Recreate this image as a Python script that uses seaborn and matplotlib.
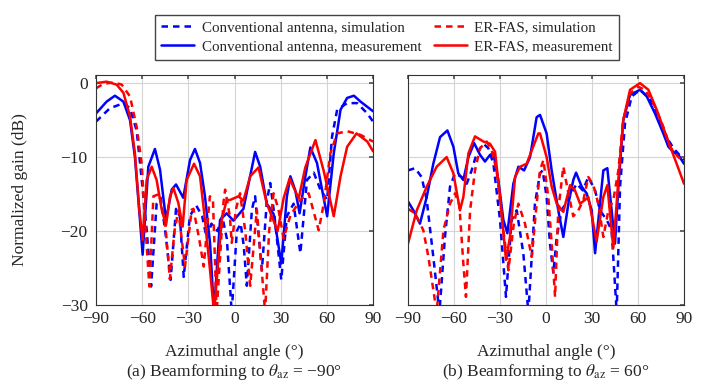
import numpy as np
import pandas as pd
import matplotlib
matplotlib.use('Agg')
import matplotlib.pyplot as plt
import seaborn as sns

# ---- (a) Beamforming to -90 deg ----
a_conv_sim_x = [-90, -81, -72, -68, -63.6, -60.9, -57, -54.2, -50.6, -48, -45, -41.5, -38, -35.5, -33, -29, -25, -21,
                -18, -15, -11, -8, -5, -1.8, 1.5, 4, 6, 8, 11.3, 13.4, 17.8, 21, 23.2, 26, 30.4, 34, 38.4, 42.8, 47.1,
                51.5, 55.8, 60.2, 63.4, 66.7, 73.2, 79.7, 86.3, 90]
a_conv_sim_y = [-5.2, -3.4, -2.7, -3.4, -6.4, -11.8, -20, -27.5, -16.3, -15.5, -20, -26.6, -17, -18, -26.2, -18, -16.5,
                -18, -21, -19, -20, -18, -21, -31, -20, -19, -22, -27.4, -17.1, -15.3, -25.3, -16, -13.5, -18, -26.6,
                -18, -16.3, -23, -13.1, -12.1, -14.4, -15.8, -7.2, -3.6, -2.7, -2.7, -4.1, -5.2]

a_conv_meas_x = [-90, -83.1, -77.7, -72.2, -67.9, -64.7, -61.4, -59.7, -56, -51.7, -48.4, -44.5, -40.8, -38, -33.3,
                 -28.9, -25.7, -22.4, -19.2, -15.9, -13.3, -9.4, -5.1, -0.7, 5.8, 13.4, 16.7, 21, 25.4, 30.4, 34, 36.3,
                 39.5, 42.3, 46, 49.3, 53.6, 60.2, 64.5, 68.9, 73.2, 77.6, 81.9, 90]
a_conv_meas_y = [-4.1, -2.5, -1.7, -2.5, -5, -10, -18.6, -23.2, -11.3, -8.9, -11.7, -18.5, -14.4, -13.7, -15.5, -10.4,
                 -8.9, -10.8, -15.3, -21.6, -31, -18.5, -17.6, -18.6, -17, -9.3, -11.3, -16.3, -17.7, -24.4, -15.4,
                 -12.6, -14.5, -17.6, -12.7, -8.7, -10.8, -18, -9.5, -3.6, -2, -1.7, -2.5, -3.8]

a_er_sim_x = [-90, -85.2, -78.7, -73.3, -67.9, -63.6, -60.3, -58.2, -55.3, -52.7, -49, -45, -42, -39, -36.5, -32.2,
              -27.8, -26.7, -23, -20, -16, -14, -11.6, -7.2, -6.1, -3, -1.8, 1, 3.6, 7, 10.2, 14.5, 19.9, 22.5, 25.4,
              28.5, 31.9, 36.3, 42.8, 48.2, 54.7, 58, 62.3, 66.7, 73.2, 81.9, 90]
a_er_sim_y = [-0.7, -0.1, 0.1, -0.2, -1.8, -5.9, -10.9, -18.5, -27.5, -15.3, -15, -19, -26.5, -20, -17.2, -24.8, -17.1,
              -17, -21, -24.8, -15.3, -15.8, -31, -16.2, -14.4, -18, -21.6, -17, -14.9, -20, -27.4, -17.1, -31, -20,
              -14.9, -17, -21, -17.9, -15.8, -14.9, -19.9, -16.3, -9.5, -6.8, -6.5, -7, -7.9]

a_er_meas_x = [-90, -83.1, -76.6, -72.2, -67.9, -64.7, -61.8, -59.7, -57.1, -53.8, -50.6, -47.3, -44.5, -41.9, -39.7,
               -36.5, -33.7, -31.1, -26.3, -22.4, -19.2, -15.9, -13.3, -8.3, -5.1, -2.9, 2.6, 5.8, 10.2, 15.6, 21, 28,
               32, 35.8, 41.7, 46, 52.6, 58, 64.5, 68.9, 73.2, 79.3, 86.3, 90]
a_er_meas_y = [0, 0.2, -0.2, -1.3, -4.5, -9.5, -17.2, -21.2, -13.1, -11.3, -13.1, -17.1, -19.2, -15.3, -14.2, -16.2,
               -19.4, -13.1, -10.9, -12.6, -18.5, -25.3, -31, -18.5, -15.8, -15.8, -15.3, -15.9, -12.6, -11.4, -16.3,
               -20, -15.5, -12.9, -15.6, -11.4, -7.7, -11.9, -18, -12.6, -8.6, -6.8, -7.9, -9.2]

# ---- (b) Beamforming to 60 deg ----
b_conv_sim_x = [-90, -85.4, -81.1, -77.8, -73.5, -69.5, -65.9, -62.6, -59.3, -55, -51.7, -48.5, -45.2, -40.8, -37.6,
                -34.3, -30, -26.1, -22.4, -19.1, -14.8, -11.5, -7.2, -3.9, -2.2, 0.4, 2.6, 4.8, 7, 10.2, 15, 20, 24,
                27.6, 32, 35.2, 39.6, 42.8, 46.1, 48.3, 51.5, 55.9, 61.3, 67.8, 73.3, 78.7, 83.1, 90]
b_conv_sim_y = [-11.8, -11.5, -12.7, -15.8, -23.5, -31, -20.8, -14, -12.2, -12.7, -13.6, -11.8, -9.5, -8.2, -8.8,
                -10.9, -18.5, -28.9, -18.5, -17.2, -23, -31, -16.3, -12.2, -11.8, -15.4, -21.7, -25.7, -20.8, -17.2,
                -15.5, -13.6, -14.5, -12.7, -14.5, -17.2, -18.5, -19.9, -31, -14, -5.5, -1.8, -0.9, -2.1, -4.6, -7.3,
                -8.8, -10.4]

b_conv_meas_x = [-90, -86.5, -82.2, -77.8, -73.5, -69.1, -64.3, -60.4, -57.2, -53.9, -50.6, -46.9, -43, -39.8, -36.5,
                 -34.3, -31.1, -27.8, -25.2, -21.3, -18, -14.3, -10.4, -6.1, -3.9, 0.4, 3.7, 8, 11.3, 14.6, 17.8, 19.6,
                 23.3, 26.5, 29.8, 32, 35.2, 37.4, 40, 42.8, 45, 47.2, 50.4, 54.8, 61.3, 65.7, 71.1, 76.5, 79.8, 83.1,
                 86.3, 90]
b_conv_meas_y = [-16, -17.2, -19, -15.4, -10.9, -7.3, -6.4, -8.6, -12.2, -13.1, -10, -8.1, -9.7, -10.6, -9.7, -9.5,
                 -13.1, -18.5, -20.3, -13.6, -11.3, -11.8, -10, -4.6, -4.3, -6.8, -11.8, -17.2, -20.8, -16.3, -13.1,
                 -12.1, -14, -14.9, -17.2, -23, -16.3, -11.8, -11.5, -17.2, -21.7, -14, -5, -1.6, -0.9, -1.8, -4.1,
                 -6.8, -8.6, -9.3, -9.7, -10.9]

b_er_sim_x = [-90, -85.4, -80, -76.7, -71.3, -66.9, -62.6, -59.3, -56.5, -53.9, -52.2, -49.5, -46.3, -43, -38.7,
              -35.4, -32.2, -27.8, -24.5, -21, -18, -13.7, -9.3, -6.1, -3.9, -1.7, 1.5, 3.7, 5.9, 8, 11.3, 14.6, 17.8,
              21.1, 24.4, 27.6, 30.9, 34.1, 37.4, 40.7, 43.9, 47.2, 50.4, 54.8, 60.2, 64.6, 70, 76.5, 80.9, 86.3, 90]
b_er_sim_y = [-17, -17.6, -19.9, -23.5, -31, -19.9, -16.3, -14.9, -16.5, -24.4, -28.9, -17.2, -11.8, -8.8, -7.9,
              -9.1, -11.8, -19.9, -25.3, -19, -16.3, -19, -23.5, -16.3, -11.8, -10.4, -15.4, -21.7, -28.9, -17.2,
              -11.3, -14.9, -18, -17.2, -15.8, -12.7, -13.8, -16.3, -20.8, -17.2, -15.8, -11.8, -5, -1.4, -0.5, -0.9,
              -2.7, -5.9, -8.6, -10, -10.6]

b_er_meas_x = [-90, -84.3, -77.8, -71.3, -64.8, -60.4, -56.1, -53.9, -50.6, -46.3, -40.8, -36.5, -33.2, -30, -26.1,
               -23.5, -20.2, -16.9, -12.6, -9.3, -5, -3.9, 0.4, 3.7, 7, 11.3, 15.7, 18.9, 22.2, 25.4, 27.6, 33, 37.4,
               40, 43.9, 47.2, 50.4, 54.8, 61.3, 66.8, 72.2, 78.7, 85.2, 90]
b_er_meas_y = [-21.7, -17.2, -14, -11.3, -10, -12.2, -17.2, -15.4, -9.5, -7.2, -7.9, -8.2, -9.3, -15.4, -23.9, -20.8,
               -12.7, -11.3, -10.9, -9.1, -6.8, -6.8, -10, -14, -16.3, -17.4, -13.8, -14.5, -16.3, -15.8, -15.4,
               -21.4, -15.4, -13.8, -22.3, -13.1, -5, -0.9, 0, -0.9, -3.6, -7.3, -10.9, -13.6]

labels = ['Conventional antenna, simulation', 'Conventional antenna, measurement',
          'ER-FAS, simulation', 'ER-FAS, measurement']
xticks = [-90, -60, -30, 0, 30, 60, 90]
yticks = [0, -10, -20, -30]
xlabel = 'Azimuthal angle (°)'
captions = [r'(a) Beamforming to $\theta_{\mathrm{az}}$ = −90°',
            r'(b) Beamforming to $\theta_{\mathrm{az}}$ = 60°']

sns.set_theme(style='white')
plt.rcParams['font.family'] = ['Liberation Serif', 'DejaVu Serif']
plt.rcParams['mathtext.fontset'] = 'stix'

FS = 12.5
W, H = 705, 381
fig = plt.figure(figsize=(7.05, 3.81), dpi=100)
ax1 = fig.add_axes([96 / W, 1 - 305 / H, 277 / W, 230 / H])
ax2 = fig.add_axes([408 / W, 1 - 305 / H, 276 / W, 230 / H])

dash = (0, (2.6, 2.0))
panels = [
    (ax1, [(a_conv_sim_x, a_conv_sim_y), (a_conv_meas_x, a_conv_meas_y),
           (a_er_sim_x, a_er_sim_y), (a_er_meas_x, a_er_meas_y)]),
    (ax2, [(b_conv_sim_x, b_conv_sim_y), (b_conv_meas_x, b_conv_meas_y),
           (b_er_sim_x, b_er_sim_y), (b_er_meas_x, b_er_meas_y)]),
]
colors = ['#0000ff', '#0000ff', '#ff0000', '#ff0000']
styles = [dash, '-', dash, '-']
centers = [(96 + 373) / 2 / W, (408 + 684) / 2 / W]

for i, (ax, series) in enumerate(panels):
    for (x, y), lab, c, ls in zip(series, labels, colors, styles):
        df = pd.DataFrame({'angle': x, 'gain': y})
        sns.lineplot(data=df, x='angle', y='gain', ax=ax, color=c, linestyle=ls,
                     linewidth=1.8, label=lab, legend=False)
    ax.set_xlim(-90, 90)
    ax.set_ylim(-30, 1.1)
    ax.set_xticks(xticks)
    ax.set_yticks(yticks)
    ax.grid(True, color='#d4d4d4', linewidth=0.8)
    ax.set_axisbelow(True)
    ax.tick_params(direction='in', length=3, top=True, right=True, color='#555555',
                   labelsize=FS, pad=4)
    for s in ax.spines.values():
        s.set_color('#333333')
        s.set_linewidth(0.8)
    ax.set_xlabel('')
    ax.set_ylabel('')
    fig.text(centers[i], 1 - 352 / H, xlabel, ha='center', va='center', fontsize=FS)
    fig.text(centers[i], 1 - 372 / H, captions[i], ha='center', va='center', fontsize=FS)

ax1.tick_params(axis='y', pad=6)
fig.text(20 / W, 1 - 190 / H, 'Normalized gain (dB)', rotation=90, ha='center', va='center', fontsize=FS)
ax2.tick_params(labelleft=False)

handles, labs = ax1.get_legend_handles_labels()
fig.legend(handles, labs, ncol=2, loc='upper center', bbox_to_anchor=(387 / W, 1 - 7 / H),
           frameon=True, fancybox=False, edgecolor='#444444', framealpha=1, fontsize=10.8,
           handlelength=2.2, handletextpad=0.5, columnspacing=0.8, borderpad=0.4, labelspacing=0.4)

fig.savefig('out.png', dpi=100)
